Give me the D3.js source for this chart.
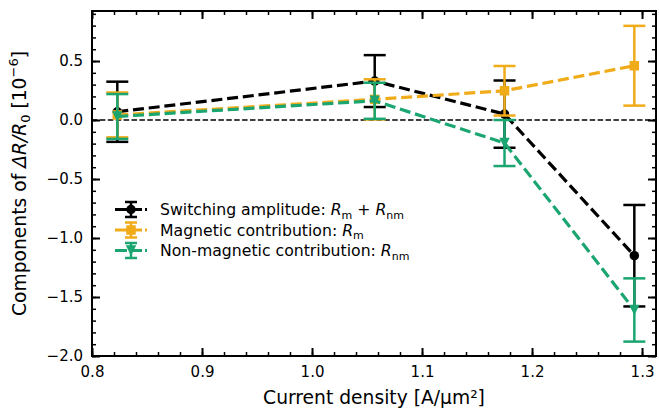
<!DOCTYPE html>
<html>
<head>
<meta charset="utf-8">
<script src="https://cdn.jsdelivr.net/npm/d3@7"></script>
<style>
	body { margin: 0; background: #fff; }
	svg text { font-family: "DejaVu Sans", sans-serif; }
</style>
</head>
<body>
<div id="chart"></div>
<script>
// DATA
const currentDensity = [0.823, 1.057, 1.175, 1.293];
const switchingVals = [0.07, 0.33, 0.05, -1.15];
const switchingErr = [0.255, 0.22, 0.285, 0.43];
const magneticVals = [0.043, 0.175, 0.248, 0.46];
const magneticErr = [0.19, 0.17, 0.21, 0.338];
const nonMagVals = [0.03, 0.163, -0.195, -1.61];
const nonMagErr = [0.19, 0.153, 0.195, 0.268];
const xTicks = [0.8, 0.9, 1.0, 1.1, 1.2, 1.3];
const yTicks = [-2.0, -1.5, -1.0, -0.5, 0.0, 0.5];

//Dimension
const width = 659,
	height = 411,
	margin = { top: 11, right: 3, bottom: 55, left: 92 };

const svg = d3
	.select("#chart")
	.append("svg")
	.attr("width", width)
	.attr("height", height);

//SCALES
const x = d3
	.scaleLinear()
	.domain([0.8, 1.3127])
	.range([margin.left, width - margin.right]);
const y = d3
	.scaleLinear()
	.domain([-2.0, 0.924])
	.range([height - margin.bottom, margin.top]);

const xMinor = d3.range(0.8, 1.315, 0.02);
const yMinor = d3.range(-2.0, 0.925, 0.1);

//ZERO LINE
svg
	.append("line")
	.attr("x1", x.range()[0])
	.attr("x2", x.range()[1])
	.attr("y1", y(0))
	.attr("y2", y(0))
	.style("stroke", "#000")
	.style("stroke-width", 1.5)
	.style("stroke-dasharray", "5.5,2.4");

//SERIES
const series = [
	{ name: "switching", vals: switchingVals, err: switchingErr, color: "#000000", marker: "circle" },
	{ name: "magnetic", vals: magneticVals, err: magneticErr, color: "#F0AB18", marker: "square" },
	{ name: "nonmag", vals: nonMagVals, err: nonMagErr, color: "#1BA571", marker: "triangle" },
];

function drawMarker(g, kind, cx, cy, color, size) {
	if (kind === "circle") {
		g.append("circle").attr("cx", cx).attr("cy", cy).attr("r", size * 0.5).attr("fill", color);
	} else if (kind === "square") {
		g.append("rect")
			.attr("x", cx - size / 2)
			.attr("y", cy - size / 2)
			.attr("width", size)
			.attr("height", size)
			.attr("fill", color);
	} else {
		const h = size * 0.55;
		g.append("path")
			.attr("d", `M${cx - h},${cy - h}L${cx + h},${cy - h}L${cx},${cy + h}Z`)
			.attr("fill", color);
	}
}

const line = d3
	.line()
	.x(d => x(d[0]))
	.y(d => y(d[1]));

series.forEach(s => {
	const g = svg.append("g").attr("class", "series-" + s.name);
	const pts = currentDensity.map((c, i) => [c, s.vals[i]]);

	g.append("path")
		.attr("d", line(pts))
		.style("fill", "none")
		.style("stroke", s.color)
		.style("stroke-width", 3.2)
		.style("stroke-dasharray", "11,4.8");

	const capHalf = 11;
	pts.forEach((p, i) => {
		const cx = x(p[0]);
		const top = y(p[1] + s.err[i]);
		const bot = y(p[1] - s.err[i]);
		g.append("line")
			.attr("x1", cx).attr("x2", cx)
			.attr("y1", top).attr("y2", bot)
			.style("stroke", s.color)
			.style("stroke-width", 2.5);
		[top, bot].forEach(yy => {
			g.append("line")
				.attr("x1", cx - capHalf).attr("x2", cx + capHalf)
				.attr("y1", yy).attr("y2", yy)
				.style("stroke", s.color)
				.style("stroke-width", 2.5);
		});
		drawMarker(g, s.marker, cx, y(p[1]), s.color, 9.5);
	});
});

//SPINE
svg
	.append("rect")
	.attr("x", x.range()[0])
	.attr("y", y.range()[1])
	.attr("width", x.range()[1] - x.range()[0])
	.attr("height", y.range()[0] - y.range()[1])
	.style("fill", "none")
	.style("stroke", "#000")
	.style("stroke-width", 2);

//AXES (ticks pointing in, on all four sides)
function styleAxis(sel, w) {
	sel.select(".domain").remove();
	sel.selectAll(".tick line").style("stroke", "#000").style("stroke-width", w);
	sel.selectAll("text").style("font-size", "15px").style("fill", "#000").style("font-family", "'DejaVu Sans', sans-serif");
}
const yBot = y.range()[0], yTop = y.range()[1], xL = x.range()[0], xR = x.range()[1];

svg.append("g").attr("transform", `translate(0,${yBot})`)
	.call(d3.axisBottom(x).tickValues(xTicks).tickFormat(d3.format(".1f")).tickSize(-8).tickPadding(10))
	.call(sel => styleAxis(sel, 2));
svg.append("g").attr("transform", `translate(0,${yBot})`)
	.call(d3.axisBottom(x).tickValues(xMinor).tickFormat("").tickSize(-4))
	.call(sel => styleAxis(sel, 1.5));
svg.append("g").attr("transform", `translate(0,${yTop})`)
	.call(d3.axisTop(x).tickValues(xTicks).tickFormat("").tickSize(-8))
	.call(sel => styleAxis(sel, 2));
svg.append("g").attr("transform", `translate(0,${yTop})`)
	.call(d3.axisTop(x).tickValues(xMinor).tickFormat("").tickSize(-4))
	.call(sel => styleAxis(sel, 1.5));

svg.append("g").attr("transform", `translate(${xL},0)`)
	.call(d3.axisLeft(y).tickValues(yTicks).tickFormat(d => d3.format(".1f")(d).replace("-", "\u2212")).tickSize(-8).tickPadding(9))
	.call(sel => styleAxis(sel, 2));
svg.append("g").attr("transform", `translate(${xL},0)`)
	.call(d3.axisLeft(y).tickValues(yMinor).tickFormat("").tickSize(-4))
	.call(sel => styleAxis(sel, 1.5));
svg.append("g").attr("transform", `translate(${xR},0)`)
	.call(d3.axisRight(y).tickValues(yTicks).tickFormat("").tickSize(-8))
	.call(sel => styleAxis(sel, 2));
svg.append("g").attr("transform", `translate(${xR},0)`)
	.call(d3.axisRight(y).tickValues(yMinor).tickFormat("").tickSize(-4))
	.call(sel => styleAxis(sel, 1.5));

//AXIS LABELS
svg
	.append("text")
	.attr("x", (xL + xR) / 2)
	.attr("y", 404)
	.attr("text-anchor", "middle")
	.style("font-size", "18.7px")
	.text("Current density [A/\u00b5m\u00b2]");

const yLabel = svg
	.append("text")
	.attr("transform", `translate(25.5,${(yTop + yBot) / 2}) rotate(-90)`)
	.attr("text-anchor", "middle")
	.style("font-size", "18.7px");
yLabel.append("tspan").text("Components of ");
yLabel.append("tspan").style("font-style", "italic").text("\u0394R/R");
yLabel.append("tspan").attr("dy", 4.5).style("font-size", "13px").text("0");
yLabel.append("tspan").attr("dy", -4.5).text(" [10");
yLabel.append("tspan").attr("dy", -8).style("font-size", "13px").text("\u22126");
yLabel.append("tspan").attr("dy", 8).text("]");

//LEGEND
const legendRows = [
	{ s: series[0], parts: [["Switching amplitude: ", ""], ["R", "i"], ["m", "sub"], [" + ", ""], ["R", "i"], ["nm", "sub"]] },
	{ s: series[1], parts: [["Magnetic contribution: ", ""], ["R", "i"], ["m", "sub"]] },
	{ s: series[2], parts: [["Non-magnetic contribution: ", ""], ["R", "i"], ["nm", "sub"]] },
];

const legend = svg.append("g").attr("class", "legend");
legendRows.forEach((row, i) => {
	const cy = 209.5 + i * 20.5;
	const lg = legend.append("g");
	lg.append("line")
		.attr("x1", 115).attr("x2", 147)
		.attr("y1", cy).attr("y2", cy)
		.style("stroke", row.s.color)
		.style("stroke-width", 3.2)
		.style("stroke-dasharray", "12,3");
	lg.append("line")
		.attr("x1", 131).attr("x2", 131)
		.attr("y1", cy - 7.5).attr("y2", cy + 7.5)
		.style("stroke", row.s.color)
		.style("stroke-width", 2.5);
	[cy - 7.5, cy + 7.5].forEach(yy => {
		lg.append("line")
			.attr("x1", 125).attr("x2", 137)
			.attr("y1", yy).attr("y2", yy)
			.style("stroke", row.s.color)
			.style("stroke-width", 2.5);
	});
	drawMarker(lg, row.s.marker, 131, cy, row.s.color, 9.5);

	const t = lg.append("text").attr("x", 160).attr("y", cy + 5.5).style("font-size", "15.7px");
	let shifted = false;
	row.parts.forEach(([txt, kind]) => {
		const ts = t.append("tspan").text(txt);
		if (kind === "i") {
			ts.style("font-style", "italic");
			if (shifted) { ts.attr("dy", -3.5); shifted = false; }
		} else if (kind === "sub") {
			ts.attr("dy", 3.5).style("font-size", "11px");
			shifted = true;
		} else if (shifted) {
			ts.attr("dy", -3.5);
			shifted = false;
		}
	});
});
</script>
</body>
</html>
